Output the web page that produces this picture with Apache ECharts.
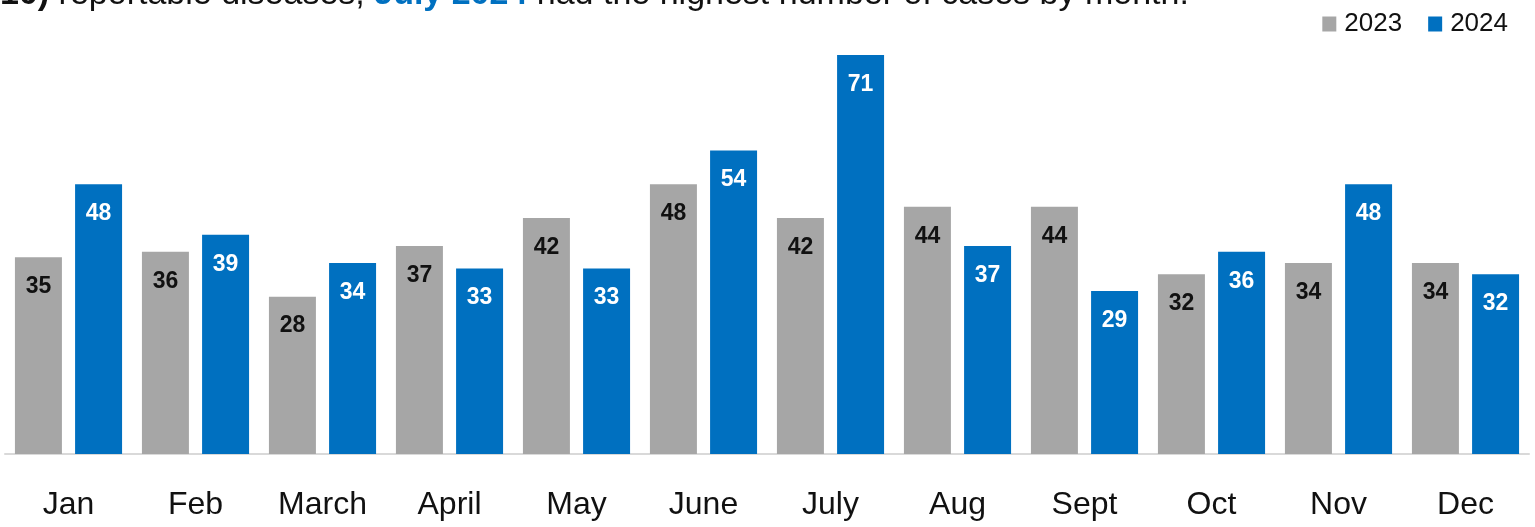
<!DOCTYPE html>
<html>
<head>
<meta charset="utf-8">
<script src="https://cdn.jsdelivr.net/npm/echarts@6/dist/echarts.min.js"></script>
<style>
  html, body { margin: 0; padding: 0; background: #fff; }
  #chart { width: 1535px; height: 527px; }
</style>
</head>
<body>
<div id="chart"></div>
<script>
// Monthly case counts for reportable diseases
const months = ['Jan', 'Feb', 'March', 'April', 'May', 'June', 'July', 'Aug', 'Sept', 'Oct', 'Nov', 'Dec'];
const cases2023 = [35, 36, 28, 37, 42, 48, 42, 44, 44, 32, 34, 34];
const cases2024 = [48, 39, 34, 33, 33, 54, 71, 37, 29, 36, 48, 32];
const seriesNames = ['2023', '2024'];

const GRAY = '#A6A6A6';
const BLUE = '#0070C0';
const FONT = '"Liberation Sans", Arial, sans-serif';

const chart = echarts.init(document.getElementById('chart'), null, { renderer: 'canvas' });

function barLabel(color) {
  return {
    show: true,
    position: 'insideTop',
    distance: 18,
    color: color,
    fontFamily: FONT,
    fontWeight: 'bold',
    fontSize: 23
  };
}

chart.setOption({
  animation: false,
  backgroundColor: '#ffffff',
  graphic: [{
    type: 'text',
    left: 0,
    top: -22,
    style: {
      text: '{b|10)} reportable diseases, {hl|July 2024} had the highest number of cases by month.',
      font: '34px ' + FONT,
      fill: '#111',
      rich: {
        b: { fontWeight: 'bold', fontSize: 34, fontFamily: FONT, fill: '#111' },
        hl: { fontWeight: 'bold', fontSize: 34, fontFamily: FONT, fill: BLUE }
      }
    }
  }],
  legend: {
    data: seriesNames,
    right: 22,
    top: 6,
    itemWidth: 14,
    itemHeight: 15,
    itemGap: 26,
    icon: 'rect',
    textStyle: {
      fontFamily: FONT,
      fontSize: 26,
      color: '#111',
      padding: [0, 0, 0, 3]
    }
  },
  grid: {
    left: 5,
    right: 6,
    top: 4.4,
    bottom: 73,
    containLabel: false
  },
  xAxis: {
    type: 'category',
    data: months,
    axisLine: { show: true, lineStyle: { color: '#D9D9D9', width: 2 } },
    axisTick: { show: false },
    axisLabel: {
      color: '#111',
      fontFamily: FONT,
      fontSize: 32,
      margin: 35
    }
  },
  yAxis: {
    type: 'value',
    min: 0,
    max: 80,
    show: false,
    splitLine: { show: false }
  },
  series: [
    {
      name: seriesNames[0],
      type: 'bar',
      data: cases2023,
      barWidth: '37%',
      barGap: '28%',
      itemStyle: { color: GRAY },
      label: barLabel('#111')
    },
    {
      name: seriesNames[1],
      type: 'bar',
      data: cases2024,
      barWidth: '37%',
      itemStyle: { color: BLUE },
      label: barLabel('#ffffff')
    }
  ]
});
</script>
</body>
</html>
